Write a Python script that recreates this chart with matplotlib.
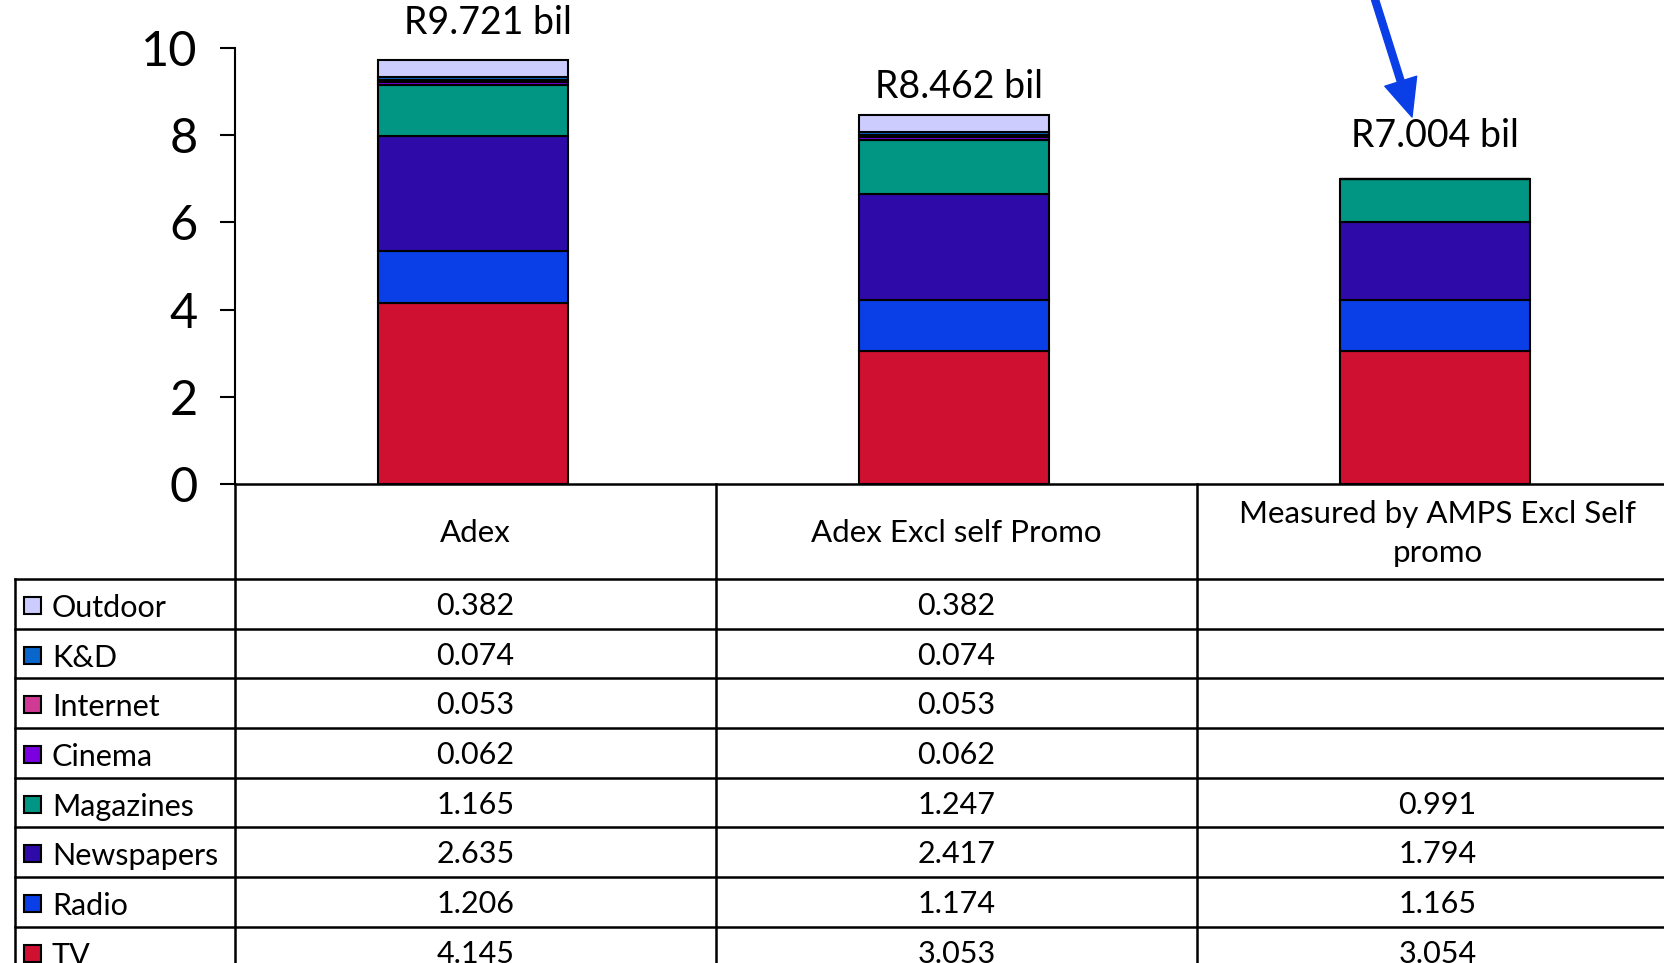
import numpy as np
import matplotlib.pyplot as plt

plt.rcParams['font.family'] = ['Lato', 'DejaVu Sans']

# media spend in R billion, stacked bottom to top
categories = ["Adex", "Adex Excl self Promo", "Measured by AMPS Excl Self\npromo"]
media = ["TV", "Radio", "Newspapers", "Magazines", "Cinema", "Internet", "K&D", "Outdoor"]
values = {
    "TV":         [4.145, 3.053, 3.054],
    "Radio":      [1.206, 1.174, 1.165],
    "Newspapers": [2.635, 2.417, 1.794],
    "Magazines":  [1.165, 1.247, 0.991],
    "Cinema":     [0.062, 0.062, None],
    "Internet":   [0.053, 0.053, None],
    "K&D":        [0.074, 0.074, None],
    "Outdoor":    [0.382, 0.382, None],
}
totals = [9.721, 8.462, 7.004]
colors = {
    "TV": "#D01030", "Radio": "#0A3FE8", "Newspapers": "#2E0AA8",
    "Magazines": "#009683", "Cinema": "#7A00E0", "Internet": "#D13A94",
    "K&D": "#0866CC", "Outdoor": "#CCCCFF",
}

W, H = 1665, 963
fig = plt.figure(figsize=(W / 100, H / 100), dpi=100)

# layout in pixels
x0, col_w = 235, 481
y_zero, y_ten = 484, 48
leg_x = 15
head_bot = 579
row_h = 49.7

ax = fig.add_axes([x0 / W, 1 - y_zero / H, 3 * col_w / W, (y_zero - y_ten) / H])
x = np.arange(len(categories)) + 0.495
bottom = np.zeros(len(categories))
for m in media:
    v = np.array([0 if a is None else a for a in values[m]])
    ax.bar(x, v, width=0.395, bottom=bottom, color=colors[m],
           edgecolor="black", linewidth=1.5, zorder=2)
    bottom += v

label_gap = [0.85, 0.65, 0.98]
label_dx = [0.03, 0.01, 0.0]
for xi, t, g, dx in zip(x, totals, label_gap, label_dx):
    ax.text(xi + dx, t + g, f"R{t:.3f} bil", ha="center", va="center", fontsize=27)

ax.set_xlim(0, 3)
ax.set_ylim(0, 10)
ax.set_yticks([0, 2, 4, 6, 8, 10])
ax.tick_params(axis="y", labelsize=35, length=11, width=1.5, pad=16)
ax.set_xticks([])
for s in ["top", "right", "bottom"]:
    ax.spines[s].set_visible(False)
ax.spines["left"].set_linewidth(1.5)
ax.patch.set_alpha(0)

# data table underneath, drawn in pixel space
tb = fig.add_axes([0, 0, 1, 1])
tb.set_xlim(0, W)
tb.set_ylim(H, 0)
tb.axis("off")

lw = 1.8
tb.plot([x0, W], [y_zero, y_zero], color="black", lw=lw)
n_rows = len(media)
row_edges = head_bot + row_h * np.arange(n_rows + 1)
for ye in row_edges:
    tb.plot([leg_x, W], [ye, ye], color="black", lw=lw)
tb.plot([leg_x, leg_x], [head_bot, H], color="black", lw=lw)
for i in range(3):
    xv = x0 + i * col_w
    tb.plot([xv, xv], [y_zero, H], color="black", lw=lw)

for i, c in enumerate(categories):
    tb.text(x0 + (i + 0.5) * col_w, (y_zero + head_bot) / 2 + 2, c,
            ha="center", va="center", fontsize=22.5, linespacing=1.5)

for r, m in enumerate(media[::-1]):
    ym = row_edges[r] + row_h / 2
    tb.add_patch(plt.Rectangle((24, ym - 7), 17, 17, facecolor=colors[m],
                               edgecolor="black", lw=1.5))
    tb.text(52, ym + 4, m, ha="left", va="center", fontsize=22)
    for i, v in enumerate(values[m]):
        if v is not None:
            tb.text(x0 + (i + 0.5) * col_w, ym + 2, f"{v:.3f}",
                    ha="center", va="center", fontsize=22)

# arrow pointing at the AMPS total
tb.annotate("", xy=(1412, 117), xytext=(1372, -10),
            arrowprops=dict(width=5, headwidth=24, headlength=27,
                            color="#0A3FE8", shrink=0))

fig.savefig("out.png", dpi=100)
